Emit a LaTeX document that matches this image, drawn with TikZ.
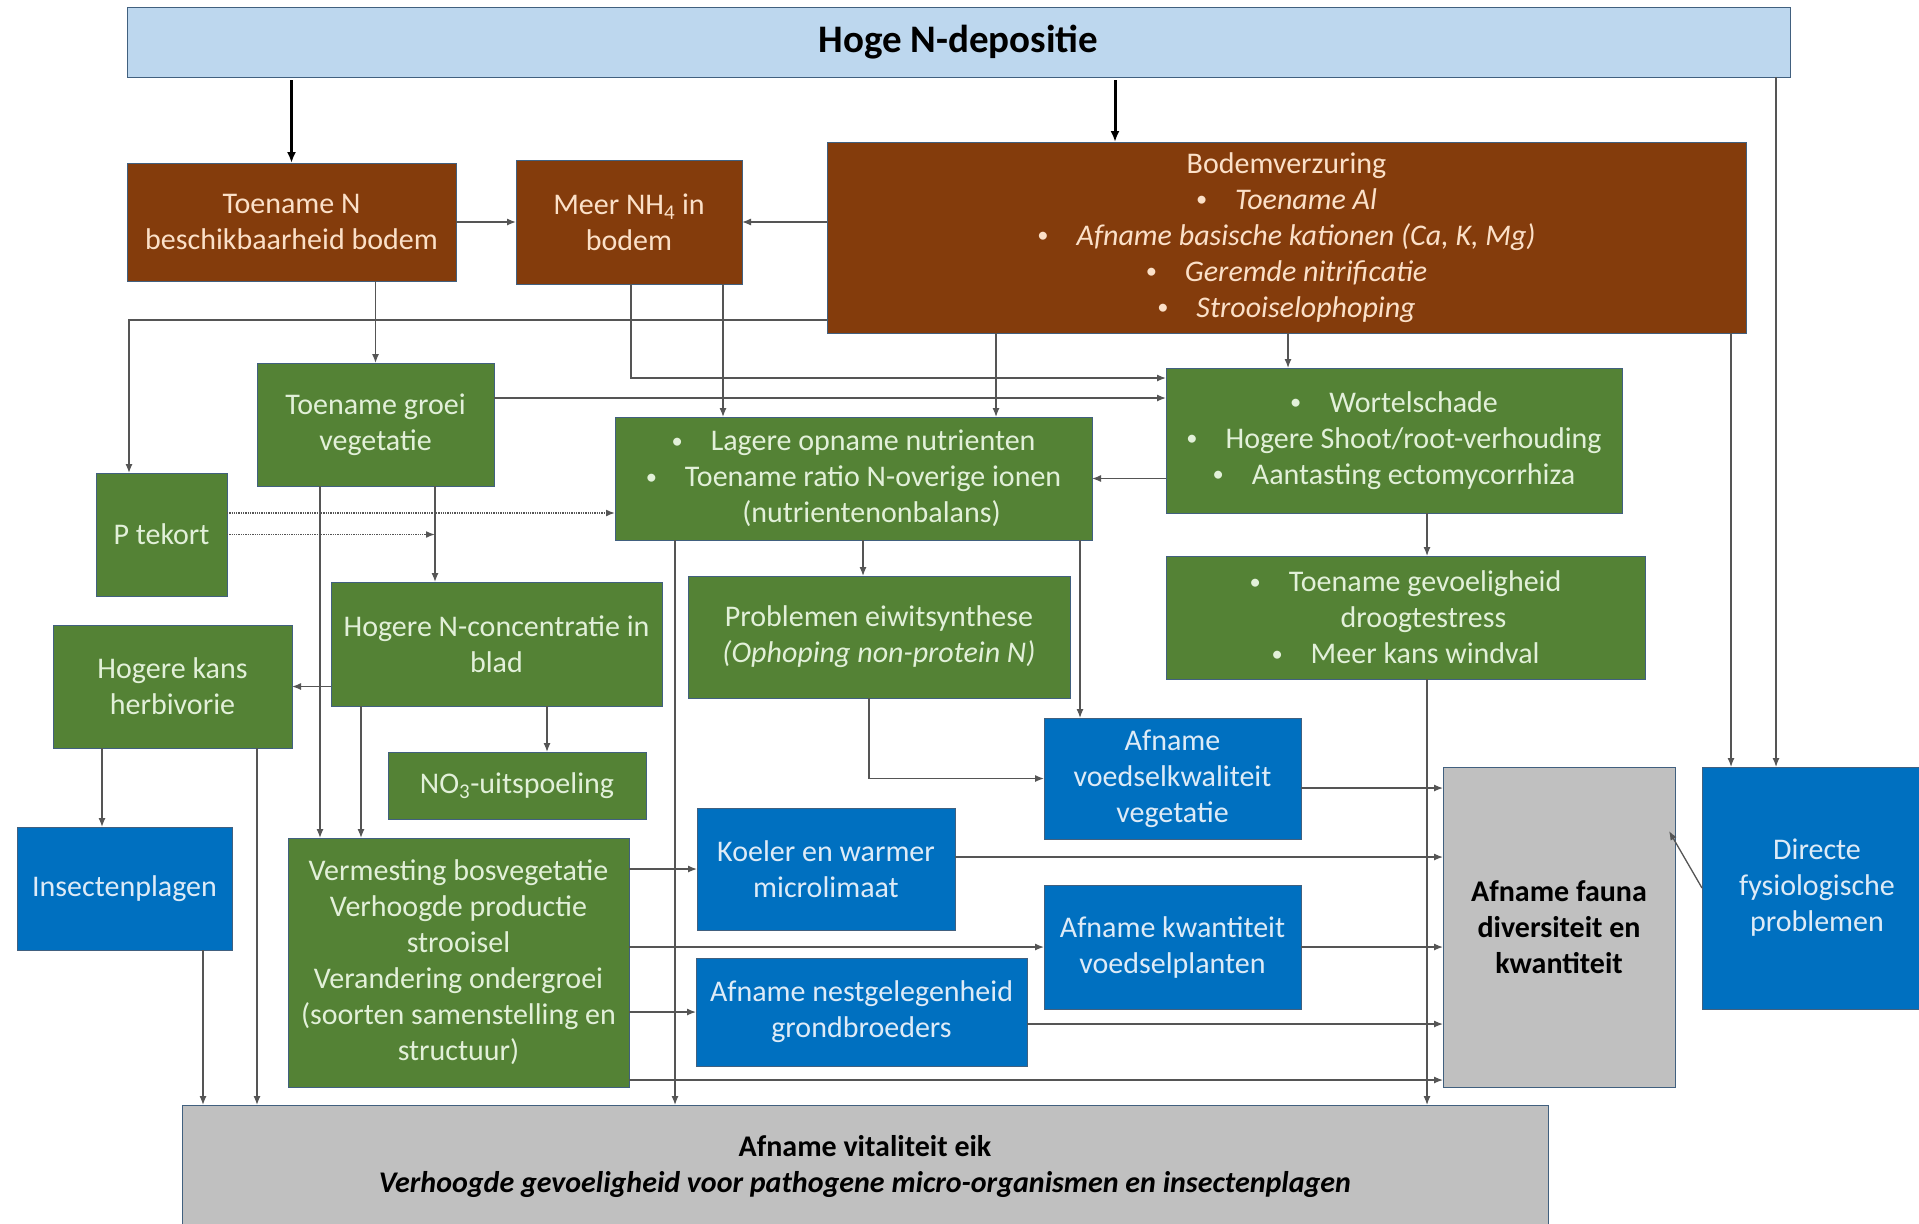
\documentclass[tikz,border=0pt]{standalone}
\usepackage{fontspec}
\usepackage{graphicx}
\setmainfont{Carlito}
\usetikzlibrary{arrows.meta}
\definecolor{topfill}{HTML}{BDD7EE}
\definecolor{brownfill}{HTML}{843C0C}
\definecolor{browntext}{HTML}{FBE0C8}
\definecolor{greenfill}{HTML}{548235}
\definecolor{greentext}{HTML}{E2F0D9}
\definecolor{bluefill}{HTML}{0070C0}
\definecolor{bluetext}{HTML}{DEEBF7}
\definecolor{grayfill}{HTML}{C0C0C0}
\definecolor{edgec}{HTML}{41607F}
\definecolor{connc}{HTML}{555555}
\newcommand\bul{\raisebox{0.08em}{\scalebox{0.75}{\textbullet}}\hspace{28bp}}
\newcommand\hang{\hspace*{36bp}}
% \bx{name}{style}{x1}{y1}{x2}{y2}{text}
\newcommand\bx[7]{\node[#2, minimum width={(#5-#3)*1bp}, minimum height={(#6-#4)*1bp}] (#1) at ({(#3+#5)/2},{(#4+#6)/2}) {#7};}
\begin{document}
\begin{tikzpicture}[x=1bp,y=-1bp,
  every node/.style={font=\fontsize{30bp}{36bp}\selectfont},
  box/.style={draw=edgec, line width=1bp, inner sep=0pt, outer sep=0pt, align=center, anchor=center},
  topbox/.style={box, fill=topfill, text=black, font=\fontsize{39bp}{45bp}\selectfont\bfseries},
  brownbox/.style={box, fill=brownfill, text=browntext},
  greenbox/.style={box, fill=greenfill, text=greentext},
  bluebox/.style={box, fill=bluefill, text=bluetext},
  graybox/.style={box, fill=grayfill, text=black, font=\fontsize{30bp}{36bp}\selectfont\bfseries},
  conn/.style={draw=connc, line width=1.3bp, -{Latex[length=9bp,width=7bp]}},
  thickconn/.style={draw=black, line width=3bp, -{Latex[length=11bp,width=9bp]}, shorten <=3bp},
  dotconn/.style={conn, densely dotted, line width=1.6bp},
]
\useasboundingbox (0,0) rectangle (1919,1223);
\fill[white] (0,0) rectangle (1919,1223);

% boxes
\bx{top}{topbox}{127}{7}{1790}{77}{Hoge N-depositie}
\bx{tn}{brownbox}{127}{163}{456}{281}{Toename N\\beschikbaarheid bodem}
\bx{nh4}{brownbox}{516}{160}{742}{284}{Meer NH\textsubscript{4} in\\bodem}
\bx{bv}{brownbox}{827}{142}{1746}{333}{Bodemverzuring\\\bul\textit{Toename Al}\\\bul\textit{Afname basische kationen (Ca, K, Mg)}\\\bul\textit{Geremde nitrificatie}\\\bul\textit{Strooiselophoping}}
\bx{tg}{greenbox}{257}{363}{494}{486}{Toename groei\\vegetatie}
\bx{pt}{greenbox}{96}{473}{227}{596}{P tekort}
\bx{hn}{greenbox}{331}{582}{662}{706}{Hogere N-concentratie in\\blad}
\bx{hk}{greenbox}{53}{625}{292}{748}{Hogere kans\\herbivorie}
\bx{no3}{greenbox}{388}{752}{646}{819}{NO\textsubscript{3}-uitspoeling}
\bx{ins}{bluebox}{17}{827}{232}{950}{Insectenplagen}
\bx{ver}{greenbox}{288}{838}{629}{1087}{Vermesting bosvegetatie\\Verhoogde productie\\strooisel\\Verandering ondergroei\\(soorten samenstelling en\\structuur)}
\bx{vit}{graybox}{182}{1105}{1548}{1228}{Afname vitaliteit eik\\\textit{Verhoogde gevoeligheid voor pathogene micro-organismen en insectenplagen}}
\bx{lo}{greenbox}{615}{417}{1092}{540}{\bul Lagere opname nutrienten\\\bul Toename ratio N-overige ionen\\\hang(nutrientenonbalans)}
\bx{pe}{greenbox}{688}{576}{1070}{698}{Problemen eiwitsynthese\\\textit{(Ophoping non-protein N)}}
\bx{vk}{bluebox}{1044}{718}{1301}{839}{Afname\\voedselkwaliteit\\vegetatie}
\bx{kw}{bluebox}{697}{808}{955}{930}{Koeler en warmer\\microlimaat}
\bx{kv}{bluebox}{1044}{885}{1301}{1009}{Afname kwantiteit\\voedselplanten}
\bx{ng}{bluebox}{696}{958}{1027}{1066}{Afname nestgelegenheid\\grondbroeders}
\bx{ws}{greenbox}{1166}{368}{1622}{513}{\bul Wortelschade\\\bul Hogere Shoot/root-verhouding\\\bul Aantasting ectomycorrhiza}
\bx{tgv}{greenbox}{1166}{556}{1645}{679}{\bul Toename gevoeligheid\\\hang droogtestress\\\bul Meer kans windval}
\bx{fa}{graybox}{1443}{767}{1675}{1087}{Afname fauna\\diversiteit en\\kwantiteit}
\bx{dir}{bluebox}{1702}{767}{1932}{1009}{Directe\\fysiologische\\problemen}

% helper coordinates
\coordinate (xA) at (1115,0);
\coordinate (xD) at (1776,0);
\coordinate (xE) at (1731,0);
\coordinate (pB) at (129,320);
\coordinate (pC) at (631,378);
\coordinate (xF) at (723,0);
\coordinate (yG) at (0,398);
\coordinate (xBV) at (996,0);
\coordinate (xH) at (1288,0);
\coordinate (xTG) at (1427,0);
\coordinate (yP1) at (0,513);
\coordinate (xJ) at (435,0);
\coordinate (xK) at (320,0);
\coordinate (xL2) at (361,0);
\coordinate (xNO) at (547,0);
\coordinate (xM) at (102,0);
\coordinate (xHV) at (257,0);
\coordinate (xIV) at (203,0);
\coordinate (xLV) at (675,0);
\coordinate (xLK) at (1080,0);
\coordinate (xLP) at (863,0);
\coordinate (xPV) at (869,0);
\coordinate (yVF) at (0,1080);
\coordinate (yVK) at (0,788);
\coordinate (yKF) at (0,857);
\coordinate (yNF) at (0,1024);
\coordinate (pDF) at (1669,831);

% connectors
\draw[thickconn] (tn.north |- top.south) -- (tn.north);
\draw[thickconn] (xA |- top.south) -- (xA |- bv.north);
\draw[conn] (xD |- top.south) -- (xD |- dir.north);
\draw[conn] (xE |- bv.south) -- (xE |- dir.north);
\draw[conn] (tn.east) -- (nh4.west);
\draw[conn] (nh4.east -| bv.west) -- (nh4.east);
\draw[conn] (tg.north |- tn.south) -- (tg.north);
\draw[conn] (pB -| bv.west) -- (pB) -- (pB |- pt.north);
\draw[conn] (pC |- nh4.south) -- (pC) -- (pC -| ws.west);
\draw[conn] (xF |- nh4.south) -- (xF |- lo.north);
\draw[conn] (yG -| tg.east) -- (yG -| ws.west);
\draw[conn] (xBV |- bv.south) -- (xBV |- lo.north);
\draw[conn] (xH |- bv.south) -- (xH |- ws.north);
\draw[conn] (lo.east -| ws.west) -- (lo.east);
\draw[conn] (xTG |- ws.south) -- (xTG |- tgv.north);
\draw[dotconn] (yP1 -| pt.east) -- (yP1 -| lo.west);
\draw[dotconn] (pt.east) -- (pt.east -| xJ);
\draw[conn] (xJ |- tg.south) -- (xJ |- hn.north);
\draw[conn] (xK |- tg.south) -- (xK |- ver.north);
\draw[conn] (xL2 |- hn.south) -- (xL2 |- ver.north);
\draw[conn] (hk.east -| hn.west) -- (hk.east);
\draw[conn] (xNO |- hn.south) -- (xNO |- no3.north);
\draw[conn] (xM |- hk.south) -- (xM |- ins.north);
\draw[conn] (xHV |- hk.south) -- (xHV |- vit.north);
\draw[conn] (xIV |- ins.south) -- (xIV |- vit.north);
\draw[conn] (xLV |- lo.south) -- (xLV |- vit.north);
\draw[conn] (xLK |- lo.south) -- (xLK |- vk.north);
\draw[conn] (xLP |- lo.south) -- (xLP |- pe.north);
\draw[conn] (xPV |- pe.south) |- (vk.west);
\draw[conn] (kw.west -| ver.east) -- (kw.west);
\draw[conn] (kv.west -| ver.east) -- (kv.west);
\draw[conn] (ng.west -| ver.east) -- (ng.west);
\draw[conn] (yVF -| ver.east) -- (yVF -| fa.west);
\draw[conn] (yVK -| vk.east) -- (yVK -| fa.west);
\draw[conn] (yKF -| kw.east) -- (yKF -| fa.west);
\draw[conn] (kv.east) -- (kv.east -| fa.west);
\draw[conn] (yNF -| ng.east) -- (yNF -| fa.west);
\draw[conn] (xTG |- tgv.south) -- (xTG |- vit.north);
\draw[conn] (dir.west) -- (pDF);
\end{tikzpicture}
\end{document}
